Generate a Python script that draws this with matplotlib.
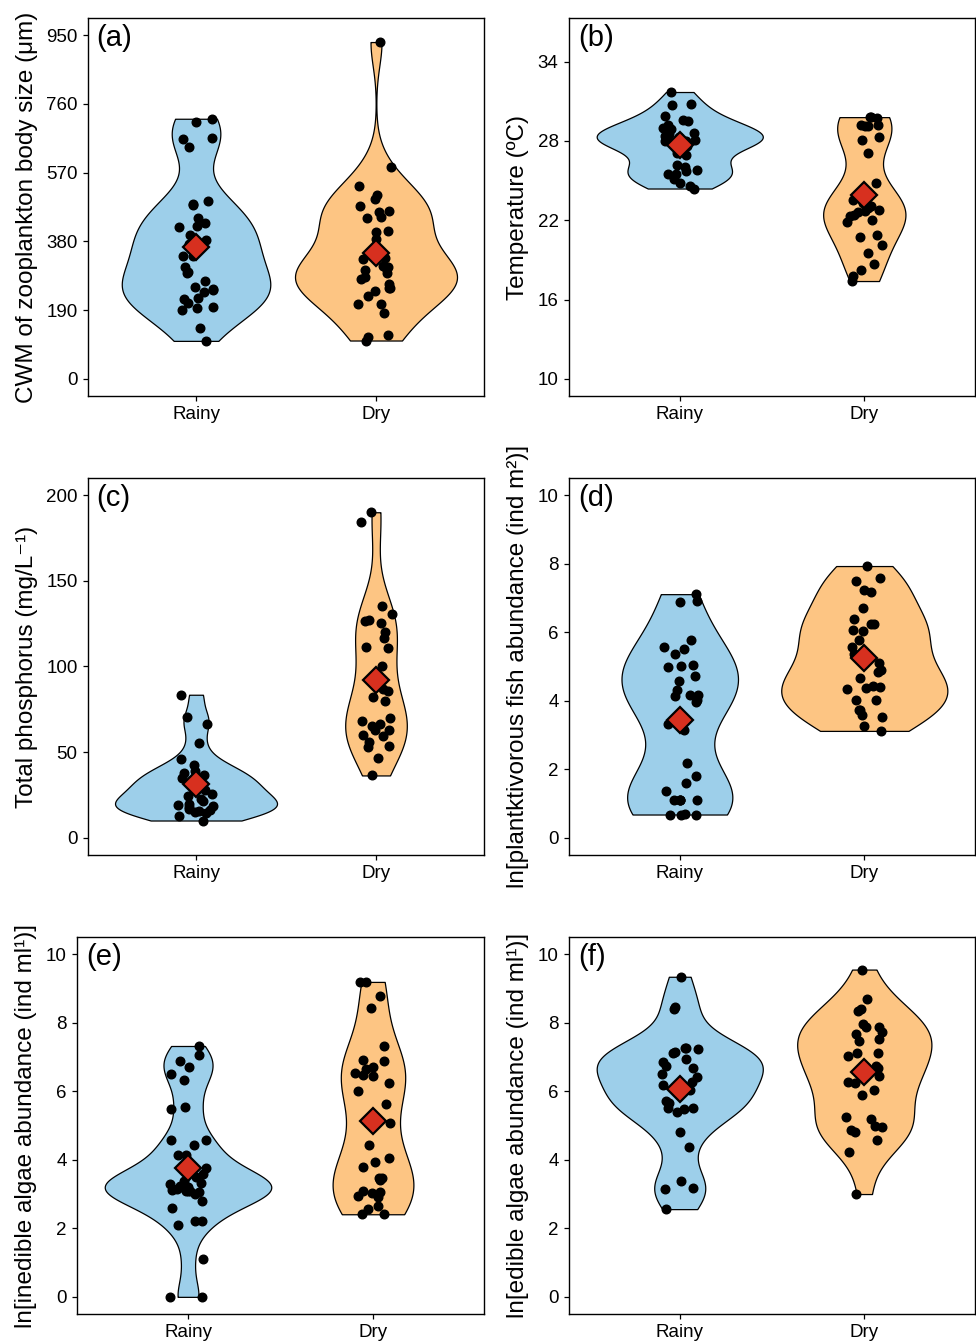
import numpy as np
import matplotlib
matplotlib.use("Agg")
import matplotlib.pyplot as plt

plt.rcParams['font.family'] = ['Liberation Sans', 'DejaVu Sans']

seasons = ["Rainy", "Dry"]
colors = ["#9DCFEA", "#FDC583"]
mean_red = "#D7301F"

# (a) CWM of zooplankton body size
body_rainy = [711, 719, 664, 667, 641, 480, 493, 484, 444, 419, 432, 422, 397, 385, 374, 354, 341,
              341, 310, 293, 270, 295, 254, 245, 249, 241, 224, 211, 222, 199, 196, 191, 141, 105]
body_dry = [931, 585, 534, 508, 497, 479, 447, 465, 460, 444, 410, 405, 386, 335, 330, 310, 312,
            307, 300, 294, 282, 277, 263, 250, 252, 242, 229, 206, 208, 183, 122, 116, 106]

# (b) temperature
temp_rainy = [31.7, 30.7, 30.8, 29.9, 29.6, 29.5, 29.2, 29.0, 28.9, 28.0, 27.9, 28.2, 27.1, 26.9, 26.2, 26.0,
              25.8, 25.7, 25.5, 25.5, 25.1, 24.8, 24.4, 24.6, 27.8, 28.1, 28.3, 27.6, 28.0, 28.4, 28.5, 28.6]
temp_dry = [29.8, 29.7, 29.8, 29.2, 29.1, 29.1, 29.2, 28.1, 28.3, 27.1, 24.8, 23.8, 23.1, 22.6, 22.7, 22.4,
            22.3, 21.9, 22.0, 23.3, 22.8, 20.9, 20.7, 20.1, 19.5, 18.7, 18.2, 17.8, 17.4, 23.5, 22.9]

# (c) total phosphorus
tp_rainy = [83.5, 70.5, 66.4, 55.5, 45.8, 42.3, 39.0, 37.8, 36.5, 35.0, 33.5, 32.0, 30.0, 29.0, 28.0,
            25.7, 24.5, 22.8, 21.5, 20.0, 19.0, 18.5, 17.9, 17.0, 16.0, 15.5, 15.0, 14.5, 12.5, 10.1]
tp_dry = [190, 184.4, 135.5, 130.5, 126.4, 125.6, 127, 120, 116.8, 111.4, 110.8, 100.3, 86.7, 85.7, 82.2,
          79.6, 70.1, 68, 63.1, 65.2, 63.1, 59.8, 59.2, 55.9, 53.6, 53, 46.7, 36.4, 66.6]

# (d) planktivorous fish
fish_rainy = [7.11, 6.88, 6.90, 5.57, 5.50, 5.37, 5.78, 4.97, 5.05, 5.00, 4.72, 4.58, 4.30, 4.16, 4.18,
              4.14, 4.01, 3.96, 3.33, 3.14, 2.19, 1.80, 1.60, 1.38, 1.11, 1.09, 1.11, 1.09, 1.10,
              0.68, 0.68, 0.69, 0.68]
fish_dry = [7.93, 7.49, 7.58, 7.22, 7.16, 6.71, 6.38, 6.25, 6.23, 6.06, 6.03, 5.76, 5.57, 5.37, 4.89,
            4.84, 4.66, 4.43, 4.33, 4.40, 4.38, 4.03, 4.03, 3.74, 3.72, 3.52, 3.57, 3.26, 3.12, 5.10]

# (e) inedible algae
inedible_rainy = [7.32, 7.07, 6.71, 6.88, 6.49, 6.32, 5.54, 5.47, 4.57, 4.59, 4.43, 4.13, 4.13, 3.76,
                  3.58, 3.33, 3.39, 3.08, 3.00, 3.13, 3.08, 3.23, 2.80, 2.60, 2.21, 2.21, 2.09, 1.10,
                  0.0, 0.0, 3.5, 3.3, 3.2, 3.1, 3.15, 3.2, 3.05]
inedible_dry = [9.19, 9.19, 8.77, 8.43, 7.32, 6.91, 6.64, 6.89, 6.71, 6.45, 6.47, 6.52, 6.25, 6.01,
                5.64, 5.06, 5.06, 4.43, 4.04, 3.94, 3.78, 3.47, 3.47, 3.42, 3.02, 3.08, 2.90, 2.95,
                3.05, 2.66, 2.55, 2.41, 2.41]

# (f) edible algae
edible_rainy = [9.34, 8.39, 8.46, 7.14, 7.24, 7.25, 7.27, 7.12, 6.94, 6.74, 6.86, 6.69, 6.50, 6.42,
                6.27, 6.03, 6.18, 5.67, 5.52, 5.38, 5.48, 5.72, 5.50, 4.82, 4.36, 3.38, 3.14, 3.19, 2.56]
edible_dry = [9.55, 8.68, 8.34, 8.39, 7.88, 7.96, 7.88, 7.72, 7.68, 7.51, 7.47, 7.12, 7.12, 7.03,
              6.69, 6.73, 6.44, 6.27, 6.23, 6.03, 5.89, 5.24, 5.18, 4.98, 4.96, 4.86, 4.82, 4.59,
              4.23, 3.00]


def nrd0(x):
    sd = np.std(x, ddof=1)
    q75, q25 = np.percentile(x, [75, 25])
    lo = min(sd, (q75 - q25) / 1.34)
    if lo <= 0:
        lo = sd
    return 0.9 * lo * len(x) ** -0.2


def density(vals):
    x = np.asarray(vals, float)
    bw = nrd0(x)
    grid = np.linspace(x.min(), x.max(), 512)
    d = np.exp(-0.5 * ((grid[:, None] - x[None, :]) / bw) ** 2).sum(1)
    d = d / (len(x) * bw * np.sqrt(2 * np.pi))
    return grid, d


def violin_panel(ax, groups, ylim, ticks, ylabel, tag, seed):
    dens = [density(g) for g in groups]
    dmax = max(d.max() for _, d in dens)
    rng = np.random.default_rng(seed)
    for i, g in enumerate(groups):
        pos = i + 1
        grid, d = dens[i]
        half = 0.45 * d / dmax
        ax.fill_betweenx(grid, pos - half, pos + half, facecolor=colors[i],
                         edgecolor="black", linewidth=0.9, zorder=1)
        xj = pos + rng.uniform(-0.1, 0.1, len(g))
        ax.plot(xj, g, "o", color="black", ms=6.2, zorder=2)
        ax.plot(pos, np.mean(g), "D", ms=12.8, mfc=mean_red, mec="black", mew=1.6, zorder=3)
    pad = 0.05 * (ylim[1] - ylim[0])
    ax.set_ylim(ylim[0] - pad, ylim[1] + pad)
    ax.set_xlim(0.4, 2.6)
    ax.set_yticks(ticks)
    ax.set_xticks([1, 2])
    ax.set_xticklabels(seasons)
    ax.tick_params(labelsize=13.5, length=3.5, width=0.9, color="black")
    ax.tick_params(axis="y", pad=4)
    ax.set_ylabel(ylabel, fontsize=17.5, labelpad=6)
    for sp in ax.spines.values():
        sp.set_linewidth(1.0)
    ax.text(0.022, 0.985, tag, transform=ax.transAxes, fontsize=21, va="top", ha="left")


fig = plt.figure(figsize=(9.76, 13.43), dpi=100)

ax_a = fig.add_axes([0.0902, 0.7051, 0.4057, 0.2815])
ax_b = fig.add_axes([0.583, 0.7051, 0.416, 0.2815])
ax_c = fig.add_axes([0.0902, 0.3634, 0.4057, 0.2807])
ax_d = fig.add_axes([0.583, 0.3634, 0.416, 0.2807])
ax_e = fig.add_axes([0.0789, 0.0216, 0.417, 0.2807])
ax_f = fig.add_axes([0.583, 0.0216, 0.416, 0.2807])

violin_panel(ax_a, [body_rainy, body_dry], (0, 950), [0, 190, 380, 570, 760, 950],
             "CWM of zooplankton body size (μm)", "(a)", 1)
violin_panel(ax_b, [temp_rainy, temp_dry], (10, 36), [10, 16, 22, 28, 34],
             "Temperature (ºC)", "(b)", 2)
violin_panel(ax_c, [tp_rainy, tp_dry], (0, 200), [0, 50, 100, 150, 200],
             "Total phosphorus (mg/L⁻¹)", "(c)", 3)
violin_panel(ax_d, [fish_rainy, fish_dry], (0, 10), [0, 2, 4, 6, 8, 10],
             "ln[plantktivorous fish abundance (ind m²)]", "(d)", 4)
violin_panel(ax_e, [inedible_rainy, inedible_dry], (0, 10), [0, 2, 4, 6, 8, 10],
             "ln[inedible algae abundance (ind ml¹)]", "(e)", 5)
violin_panel(ax_f, [edible_rainy, edible_dry], (0, 10), [0, 2, 4, 6, 8, 10],
             "ln[edible algae abundance (ind ml¹)]", "(f)", 6)

fig.savefig("out.png", dpi=100)
